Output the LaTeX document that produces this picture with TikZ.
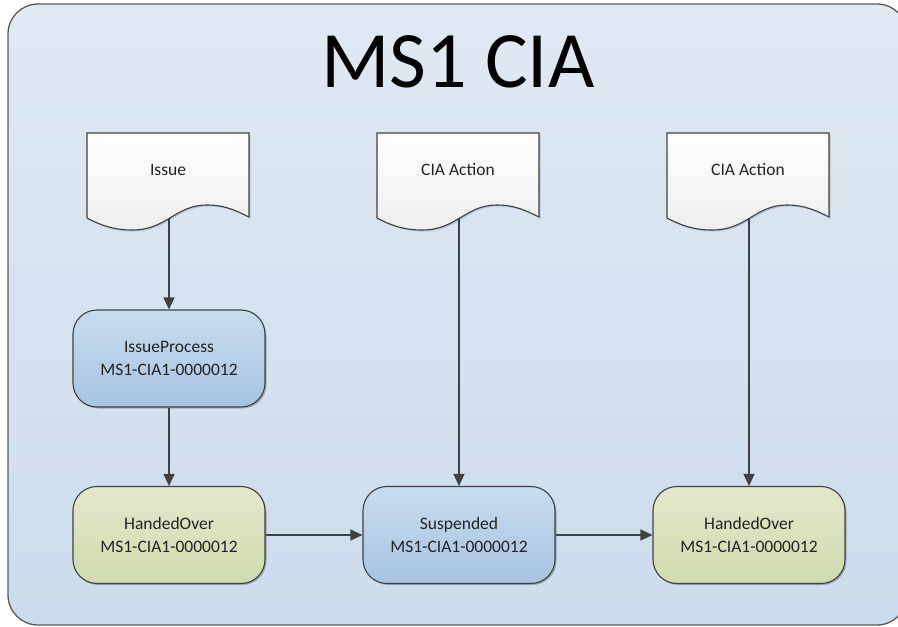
\documentclass[tikz,border=0pt]{standalone}
\usepackage{fontspec}
\setmainfont{Carlito}
\usetikzlibrary{arrows.meta,shadows}

\definecolor{frameline}{RGB}{90,90,90}
\definecolor{edgeline}{RGB}{64,64,64}
\definecolor{txt}{RGB}{35,35,35}
\definecolor{bgtop}{RGB}{225,233,243}
\definecolor{bgbot}{RGB}{203,220,236}
\definecolor{bluetop}{RGB}{200,220,239}
\definecolor{bluebot}{RGB}{166,195,224}
\definecolor{greentop}{RGB}{228,232,204}
\definecolor{greenbot}{RGB}{208,218,174}
\definecolor{doctop}{RGB}{255,255,255}
\definecolor{docbot}{RGB}{238,238,238}

\tikzset{
  statebox/.style={draw=edgeline, line width=1.1pt, rounded corners=24pt,
    minimum width=192pt, minimum height=97pt, align=center,
    font=\fontsize{17.5}{22.5}\selectfont, text=txt,
    drop shadow={shadow xshift=1.5pt, shadow yshift=-1.5pt, opacity=0.25, fill=black}},
  bluestate/.style={statebox, top color=bluetop, bottom color=bluebot},
  greenstate/.style={statebox, top color=greentop, bottom color=greenbot},
  doclabel/.style={font=\fontsize{17.5}{22.5}\selectfont, text=txt},
  docedge/.style={draw=edgeline, line width=1.1pt, top color=doctop, bottom color=docbot},
  flow/.style={draw=edgeline, line width=1.2pt, -{Triangle[length=12pt,width=11pt]}},
}

% document shape with a wavy bottom; #1 name, #2 left edge, #3 label
\newcommand{\docsheet}[3]{%
  \fill[black, opacity=0.15, shift={(1.5,1.5)}]
    (#2,133) -- (#2+162,133) -- (#2+162,217)
    .. controls (#2+150,211) and (#2+138,205) .. (#2+120,205)
    .. controls (#2+88,205) and (#2+80,230) .. (#2+45,230)
    .. controls (#2+28,230) and (#2+15,226) .. (#2,218) -- cycle;
  \path[docedge]
    (#2,133) -- (#2+162,133) -- (#2+162,217)
    .. controls (#2+150,211) and (#2+138,205) .. (#2+120,205)
    .. controls (#2+88,205) and (#2+80,230) .. (#2+45,230)
    .. controls (#2+28,230) and (#2+15,226) .. (#2,218) -- cycle;
  \node[doclabel] (#1) at (#2+81,170) {#3};
  \coordinate (#1-w) at (#2+82,217.5);
}

\begin{document}
\begin{tikzpicture}[x=1pt,y=-1pt]
  \useasboundingbox (0,0) rectangle (898,627);

  % frame
  \begin{scope}
    \clip (0,0) rectangle (898,627);
    \path[draw=frameline, line width=1.3pt, rounded corners=30pt,
          top color=bgtop, bottom color=bgbot]
      (8,4) rectangle (907,625);
  \end{scope}

  \node[font=\fontsize{80}{82}\selectfont, text=black] (title) at (458,62) {MS1 CIA};

  % documents
  \docsheet{issue}{87}{Issue}
  \docsheet{actA}{377}{CIA Action}
  \docsheet{actB}{667}{CIA Action}

  % states
  \node[bluestate]  (proc) at (169,358.5) {IssueProcess\\MS1-CIA1-0000012};
  \node[greenstate] (hand) at (169,535)   {HandedOver\\MS1-CIA1-0000012};
  \node[bluestate]  (susp) at (459,535)   {Suspended\\MS1-CIA1-0000012};
  \node[greenstate] (done) at (749,535)   {HandedOver\\MS1-CIA1-0000012};

  % connectors
  \draw[flow] (issue-w) -- (proc.north);
  \draw[flow] (proc.south) -- (hand.north);
  \draw[flow] (actA-w) -- (susp.north);
  \draw[flow] (actB-w) -- (done.north);
  \draw[flow] (hand.east) -- (susp.west);
  \draw[flow] (susp.east) -- (done.west);
\end{tikzpicture}
\end{document}
